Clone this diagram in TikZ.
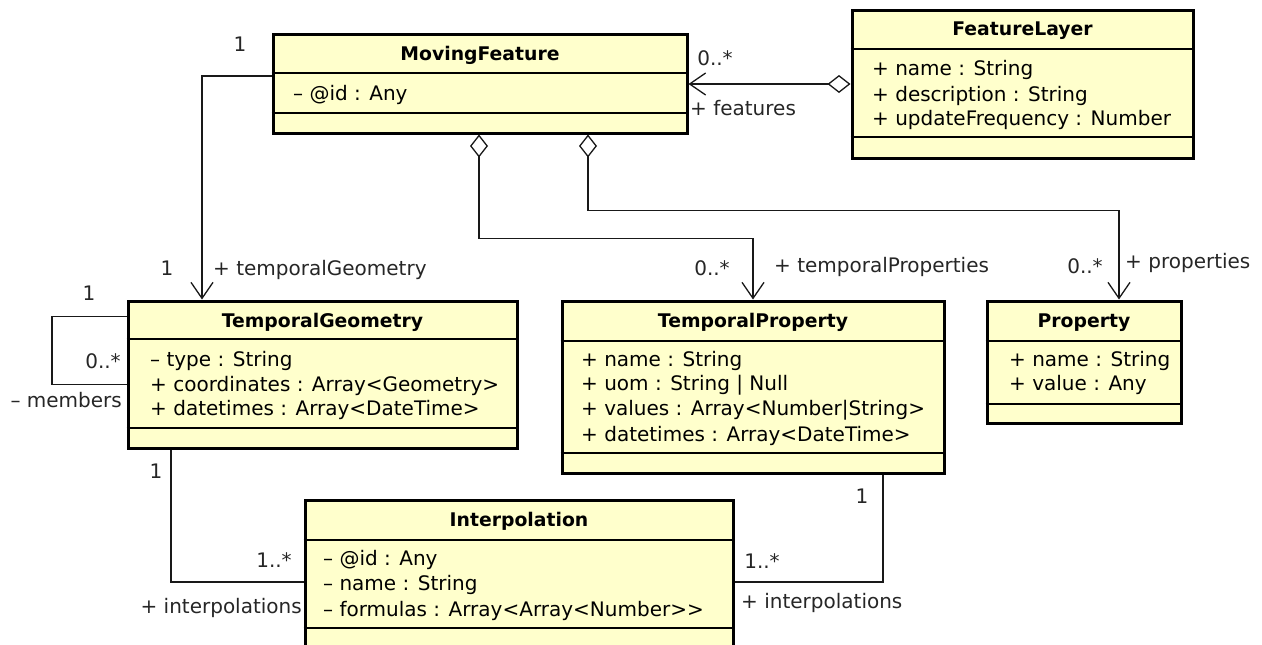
\documentclass[tikz,border=0pt]{standalone}
\usepackage{fontspec}
\setmainfont{DejaVu Sans}
\usetikzlibrary{arrows.meta}
\definecolor{umlyellow}{RGB}{255,255,204}

\begin{document}
\begin{tikzpicture}[x=1pt,y=-1pt]
	\tikzstyle{classbox}=[rectangle,draw=black,line width=3pt,fill=umlyellow,inner sep=0pt]
	\tikzstyle{title}=[font=\fontsize{18.8}{22}\selectfont\bfseries,inner sep=0pt,text height=14pt,text depth=4pt]
	\tikzstyle{attr}=[anchor=west,font=\fontsize{20}{24}\selectfont,inner sep=0pt,text height=14pt,text depth=4pt]
	\tikzstyle{mult}=[font=\fontsize{20}{24}\selectfont,text=black!85,inner sep=0pt,text height=14pt,text depth=4pt]
	\tikzstyle{divider}=[line width=1.5pt]
	\tikzstyle{link}=[draw=black!90,line width=1.3pt]
	\tikzstyle{nav}=[link,-{Straight Barb[length=16pt,width=22pt]}]
	\tikzstyle{aggr}=[link,{Diamond[open,length=23pt,width=18pt]}-{Straight Barb[length=16pt,width=22pt]}]

	\useasboundingbox (0,0) rectangle (1262,645);

	% classes
	\node [classbox, minimum width=414pt, minimum height=99pt] (mf) at (480,83.5) {};
	\node [classbox, minimum width=341pt, minimum height=148pt] (fl) at (1022.5,84) {};
	\node [classbox, minimum width=389pt, minimum height=147pt] (tg) at (322.5,374.5) {};
	\node [classbox, minimum width=382pt, minimum height=172pt] (tp) at (753,387) {};
	\node [classbox, minimum width=194pt, minimum height=122pt] (prop) at (1084,362) {};
	\node [classbox, minimum width=428pt, minimum height=160pt] (interp) at (519,580) {};

	\foreach \n/\y in {mf/73, mf/113, fl/49, fl/137, tg/339, tg/428, tp/341, tp/453, prop/341, prop/404, interp/540, interp/628}
		\draw [divider] (\n.west |- 0,\y) -- (\n.east |- 0,\y);

	% MovingFeature
	\node [title] (mfname) at (480,55) {MovingFeature};
	\node [attr] (mfid) at (293,95) {– @id : Any};

	% FeatureLayer
	\node [title] (flname) at (1022.5,30) {FeatureLayer};
	\node [attr] (flname1) at (872,70) {+ name : String};
	\node [attr] (fldesc) at (872,96) {+ description : String};
	\node [attr] (flfreq) at (872,120) {+ updateFrequency : Number};

	% TemporalGeometry
	\node [title] (tgname) at (322.5,322) {TemporalGeometry};
	\node [attr] (tgtype) at (150,361) {– type : String};
	\node [attr] (tgcoord) at (150,386) {+ coordinates : Array<Geometry>};
	\node [attr] (tgdt) at (150,410) {+ datetimes : Array<DateTime>};

	% TemporalProperty
	\node [title] (tpname) at (753,322) {TemporalProperty};
	\node [attr] (tpname1) at (581,361) {+ name : String};
	\node [attr] (tpuom) at (581,385) {+ uom : String | Null};
	\node [attr] (tpval) at (581,410) {+ values : Array<Number|String>};
	\node [attr] (tpdt) at (581,436) {+ datetimes : Array<DateTime>};

	% Property
	\node [title] (propname) at (1084,322) {Property};
	\node [attr] (propname1) at (1009,361) {+ name : String};
	\node [attr] (propval) at (1009,385) {+ value : Any};

	% Interpolation
	\node [title] (interpname) at (519,521) {Interpolation};
	\node [attr] (interpid) at (323,560) {– @id : Any};
	\node [attr] (interpname1) at (323,585) {– name : String};
	\node [attr] (interpform) at (323,611) {– formulas : Array<Array<Number>{}>};

	% associations
	\draw [aggr] (fl.west) -- (fl.west -| mf.east);
	\draw [nav] ([yshift=7.5pt]mf.west) -| ([xshift=-120.5pt]tg.north);
	\draw [aggr] ([xshift=-1pt]mf.south) -- ++(0,104) -| (tp.north);
	\draw [aggr] ([xshift=108pt]mf.south) -- ++(0,76) -| ([xshift=35pt]prop.north);
	\draw [link] ([yshift=58pt]tg.west) -- ++(-74.5,0) |- ([yshift=-10pt]tg.west);
	\draw [link] ([xshift=-151.5pt]tg.south) |- ([yshift=-2pt]interp.west);
	\draw [link] ([xshift=130pt]tp.south) |- ([yshift=-2pt]interp.east);

	% multiplicities and roles
	\node [mult] (m1) at (240,46) {1};
	\node [mult] (m2) at (715,60) {0..*};
	\node [mult, anchor=west] (r1) at (690,110) {+ features};
	\node [mult] (m3) at (167,270) {1};
	\node [mult, anchor=west] (r2) at (213,270) {+ temporalGeometry};
	\node [mult] (m4) at (712,270) {0..*};
	\node [mult, anchor=west] (r3) at (774,267) {+ temporalProperties};
	\node [mult] (m5) at (1085,268) {0..*};
	\node [mult, anchor=west] (r4) at (1125,263) {+ properties};
	\node [mult] (m6) at (89,295) {1};
	\node [mult] (m7) at (103,363) {0..*};
	\node [mult, anchor=east] (r5) at (122,402) {– members};
	\node [mult] (m8) at (156,473) {1};
	\node [mult] (m9) at (274,562) {1..*};
	\node [mult, anchor=east] (r6) at (302,608) {+ interpolations};
	\node [mult] (m10) at (862,498) {1};
	\node [mult] (m11) at (762,563) {1..*};
	\node [mult, anchor=west] (r7) at (741,603) {+ interpolations};
\end{tikzpicture}
\end{document}
